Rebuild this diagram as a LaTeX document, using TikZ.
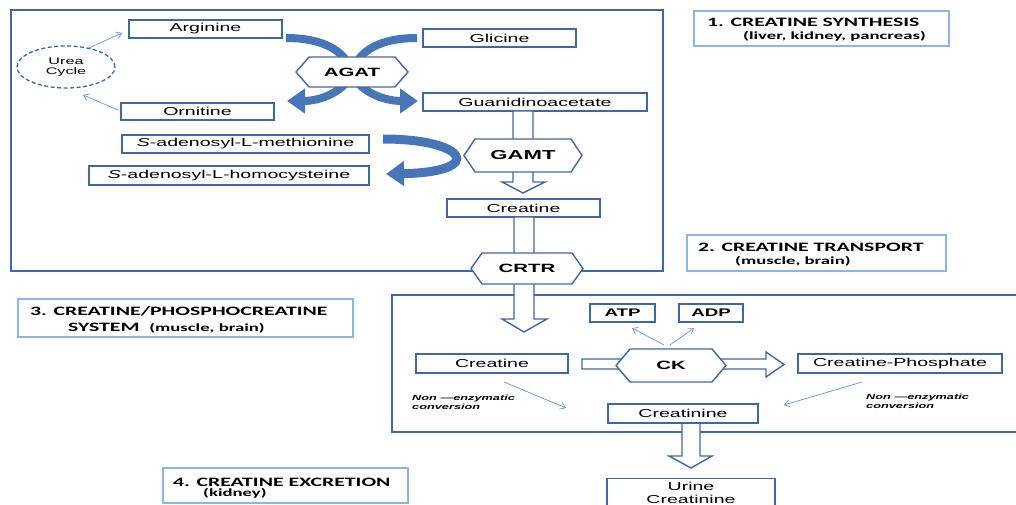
\documentclass[tikz,border=0pt]{standalone}
\usepackage{fontspec}
\usetikzlibrary{arrows.meta,calc,shapes.geometric}
\newfontfamily\af[FakeStretch=1.7]{Liberation Sans}
\newfontfamily\cf[FakeStretch=1.7]{Carlito}
\definecolor{bb}{RGB}{65,104,158}
\definecolor{lb}{RGB}{141,180,226}
\definecolor{fb}{RGB}{70,118,184}
\definecolor{tb}{RGB}{100,150,210}
\newcommand\fs[1]{\fontsize{#1}{#1}\selectfont}
\newcommand\hexa[5]{\draw[hexs] ({#1-#3},#2) -- ({#1-#3+#5},{#2-#4}) -- ({#1+#3-#5},{#2-#4}) -- ({#1+#3},#2) -- ({#1+#3-#5},{#2+#4}) -- ({#1-#3+#5},{#2+#4}) -- cycle;}
\begin{document}
\begin{tikzpicture}[x=1pt,y=-1pt,
  box/.style={draw=bb,line width=1.4pt,fill=white,inner sep=0pt,font=\af\fs{11.5}},
  lbl/.style={draw=lb,line width=1.2pt,fill=white,inner sep=0pt},
  ltxt/.style={anchor=base west,inner sep=0pt,font=\cf\bfseries\fs{12.8}},
  stxt/.style={anchor=base west,inner sep=0pt,font=\cf\bfseries\fs{11}},
  hexs/.style={draw=bb,line width=1.4pt,fill=white,line join=miter},
  hext/.style={inner sep=0pt,font=\af\bfseries\fs{12}},
  hollow/.style={draw=bb,line width=1.4pt,fill=white,line join=miter},
  band/.style={draw=fb,line width=8pt,-{Triangle[length=18pt,width=24pt]}},
  thin/.style={draw=tb,line width=0.7pt,-{Straight Barb[length=5pt,width=7pt]}},
  nz/.style={anchor=base west,inner sep=0pt,font=\af\bfseries\itshape\fs{7.5}}]
\useasboundingbox (0,0) rectangle (1016,505);
\clip (0,0) rectangle (1016,505);

% big region boxes
\draw[draw=bb,line width=1.4pt] (11,10) rectangle (663,271);
\draw[draw=bb,line width=1.4pt] (392,295) rectangle (1030,432);

% urea cycle
\node[draw=bb,dash pattern=on 4pt off 2.5pt,line width=1.3pt,ellipse,minimum width=98pt,minimum height=42pt,inner sep=0pt,align=center,font=\af\fs{9.5}] (urea) at (66,67) {\fontsize{9.5}{11}\selectfont Urea\\Cycle};

% text boxes (synthesis)
\node[box,minimum width=153pt,minimum height=18pt] (arg) at (205.5,29) {Arginine};
\node[box,minimum width=153pt,minimum height=17pt] (orn) at (197.5,111.5) {Ornitine};
\node[box,minimum width=247pt,minimum height=18pt] (sam) at (245.5,144) {\textit{S}-adenosyl-L-methionine};
\node[box,minimum width=280pt,minimum height=19pt] (sah) at (229,175.5) {\textit{S}-adenosyl-L-homocysteine};
\node[box,minimum width=153pt,minimum height=18pt] (gly) at (499.5,38) {Glicine};
\node[box,minimum width=224pt,minimum height=18pt] (gaa) at (535,102) {Guanidinoacetate};
\node[box,minimum width=153pt,minimum height=18pt] (cr1) at (523.5,208) {Creatine};

% urea cycle arrows
\coordinate (u1) at (89,48); \coordinate (a1) at (122,33);
\coordinate (o1) at (118,110); \coordinate (u2) at (83,95);
\draw[thin] (u1) -- (a1);
\draw[thin] (o1) -- (u2);

% thick curved arrows (AGAT)
\coordinate (b1s) at (286,38); \coordinate (b1e) at (418,101);
\coordinate (b2s) at (417,38); \coordinate (b2e) at (287,101);
\draw[band] (b1s) .. controls (322,38) and (345,50) .. (352,72) .. controls (358,92) and (385,101) .. (b1e);
\draw[band] (b2s) .. controls (381,38) and (359,50) .. (352,72) .. controls (346,92) and (319,101) .. (b2e);
% SAM -> SAH
\coordinate (b3s) at (383,139); \coordinate (b3e) at (386,174);
\draw[draw=fb,line width=9pt,-{Triangle[length=18pt,width=24pt]}] (b3s) .. controls (468,139) and (486,172) .. (b3e);

% hollow arrows
\draw[hollow] (513,111) -- (513,182) -- (502,182) -- (523,193) -- (545,182) -- (533,182) -- (533,111) -- cycle;
\draw[hollow] (514,217) -- (514,319) -- (502,319) -- (524,332) -- (547,319) -- (534,319) -- (534,217) -- cycle;
\draw[hollow] (582,359) -- (766,359) -- (766,352) -- (784,364.5) -- (766,377) -- (766,369) -- (582,369) -- cycle;
\draw[hollow] (682,423) -- (682,456) -- (669,456) -- (691,468) -- (712,456) -- (700,456) -- (700,423) -- cycle;

% hexagons
\hexa{352}{72}{56}{15}{13}
\node[hext] (agat) at (352,72) {AGAT};
\hexa{523}{155.5}{59}{16.5}{11}
\node[hext,font=\af\bfseries\fs{13}] (gamt) at (523,155.5) {GAMT};
\hexa{527}{268.5}{56}{15.5}{11}
\node[hext] (crtr) at (527,268.5) {CRTR};
\hexa{671}{365.5}{55}{16.5}{14}
\node[hext] (ck) at (671,365.5) {CK};

% CK system
\node[box,minimum width=65pt,minimum height=18pt,font=\af\bfseries\fs{11}] (atp) at (622.5,313) {ATP};
\node[box,minimum width=64pt,minimum height=18pt,font=\af\bfseries\fs{11}] (adp) at (711,313) {ADP};
\node[box,minimum width=152pt,minimum height=19pt] (cr2) at (492,363.5) {Creatine};
\node[box,minimum width=204pt,minimum height=19pt] (pcr) at (900,363.5) {Creatine-Phosphate};
\node[box,minimum width=150pt,minimum height=19pt] (crn) at (683,413.5) {Creatinine};
\node[draw=bb,line width=1.4pt,fill=white,minimum width=168pt,minimum height=30pt,anchor=north] (urine) at (691,478) {};
\node[inner sep=0pt,align=center,font=\af\fontsize{11.5}{12.5}\selectfont,anchor=base] (urinet) at (691,503) {Urine\\Creatinine};

\coordinate (k1) at (664,345); \coordinate (k2) at (670,345);
\draw[thin] (k1) -- (632,328);
\draw[thin] (k2) -- (694,328);
\coordinate (n1s) at (504,382); \coordinate (n1e) at (566,408);
\coordinate (n2s) at (862,382); \coordinate (n2e) at (784,405);
\draw[thin] (n1s) -- (n1e);
\draw[thin] (n2s) -- (n2e);
\node[nz] (nz1a) at (412,400) {Non —enzymatic};
\node[nz] (nz1b) at (412,409.5) {conversion};
\node[nz] (nz2a) at (866,399) {Non —enzymatic};
\node[nz] (nz2b) at (866,408.5) {conversion};

% label boxes
\node[lbl,minimum width=255pt,minimum height=35pt] (l1) at (821.5,28.5) {};
\node[ltxt] (l1a) at (707,27) {1. CREATINE SYNTHESIS};
\node[stxt] (l1b) at (743,39.5) {(liver, kidney, pancreas)};
\node[lbl,minimum width=259pt,minimum height=36pt] (l2) at (816.5,253) {};
\node[ltxt] (l2a) at (698,251) {2. CREATINE TRANSPORT};
\node[stxt] (l2b) at (735,264) {(muscle, brain)};
\node[lbl,minimum width=335pt,minimum height=38pt] (l3) at (185.5,318) {};
\node[ltxt] (l3a) at (30,315) {3. CREATINE/PHOSPHOCREATINE};
\node[ltxt] (l3b) at (68,331) {SYSTEM\ \ {\fs{11}(muscle, brain)}};
\node[lbl,minimum width=245pt,minimum height=35pt] (l4) at (285.5,485.5) {};
\node[ltxt] (l4a) at (173,486) {4. CREATINE EXCRETION};
\node[stxt] (l4b) at (203,496.5) {(kidney)};
\end{tikzpicture}
\end{document}
